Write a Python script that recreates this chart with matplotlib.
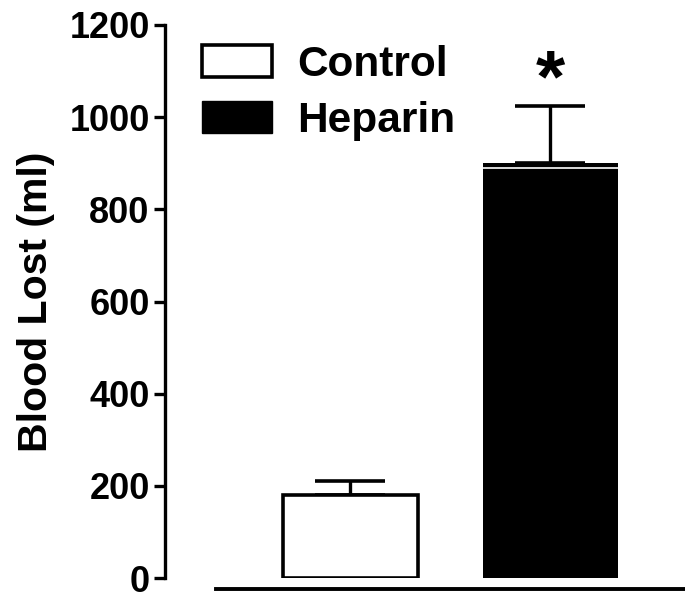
import numpy as np
import matplotlib
matplotlib.use("Agg")
import matplotlib.pyplot as plt
from matplotlib.patches import Patch

groups = ["Control", "Heparin"]
means = [180, 900]
sems = [30, 125]

plt.rcParams['font.family'] = ['Liberation Sans', 'DejaVu Sans']
plt.rcParams['font.weight'] = 'bold'

fig = plt.figure(figsize=(6.85, 6.05), dpi=100)
ax = fig.add_axes([165/685, 27/605, 520/685, 553/605])

x = np.arange(len(groups))
w = 0.675
ax.bar(x[0], means[0], w, color="white", edgecolor="black", linewidth=2.6, zorder=2)
ax.bar(x[1], means[1], w, color="black", edgecolor="black", linewidth=0, zorder=2)
# thin white gap just under the top of the heparin bar
ax.plot([x[1] - w/2, x[1] + w/2], [means[1] - 10, means[1] - 10], color="white", lw=1.2, zorder=3)

ax.errorbar(x, means, yerr=[[0, 0], sems], fmt="none", ecolor="black",
            elinewidth=2.4, capsize=25, capthick=2.6, zorder=1)

ax.text(x[1], means[1] + sems[1] + 52, "*", ha="center", va="center", fontsize=54, fontweight="bold")

ax.set_xlim(-0.9275, 1.675)
ax.set_ylim(0, 1200)
ax.set_yticks(np.arange(0, 1201, 200))
ax.set_xticks([])

for s in ["top", "right"]:
    ax.spines[s].set_visible(False)
ax.spines["left"].set_linewidth(2.4)
ax.spines["bottom"].set_linewidth(2.8)
ax.spines["bottom"].set_position(("outward", 8))
ax.spines["bottom"].set_bounds(-0.6725, 1.675)

ax.tick_params(axis="y", length=8, width=2.4, labelsize=26, pad=3)
for lab in ax.get_yticklabels():
    lab.set_fontweight("bold")

ax.set_ylabel("Blood Lost (ml)", fontsize=29.5, fontweight="bold", labelpad=10)

handles = [Patch(facecolor="white", edgecolor="black", linewidth=2.6, label="Control"),
           Patch(facecolor="black", edgecolor="black", label="Heparin")]
ax.legend(handles=handles, loc="upper left", bbox_to_anchor=(0.022, 1.01), frameon=False,
          prop={"size": 30.5, "weight": "bold"}, handlelength=1.65, handleheight=0.78,
          handletextpad=0.6, labelspacing=0.38, borderaxespad=0.2)

fig.savefig("out.png", dpi=100)
